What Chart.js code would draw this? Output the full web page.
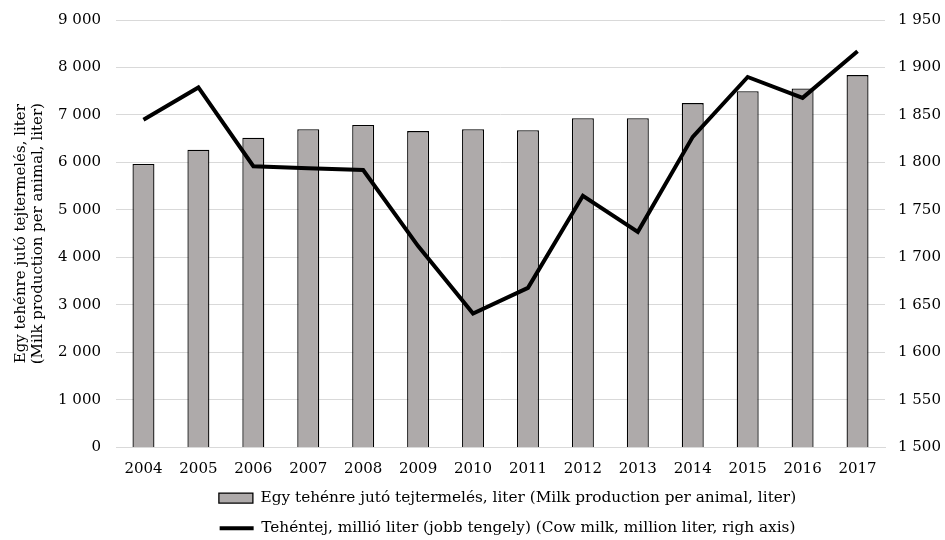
<!DOCTYPE html>
<html>
<head>
<meta charset="utf-8">
<script src="https://cdn.jsdelivr.net/npm/chart.js@4"></script>
<style>
  html, body { margin: 0; padding: 0; background: #fff; }
  #wrap { width: 945px; height: 540px; }
</style>
</head>
<body>
<div id="wrap"><canvas id="milkChart" width="945" height="540"></canvas></div>
<script>
const years = ['2004', '2005', '2006', '2007', '2008', '2009', '2010', '2011', '2012', '2013', '2014', '2015', '2016', '2017'];
// liter / cow
const perAnimal = [5970, 6270, 6520, 6700, 6790, 6660, 6700, 6680, 6930, 6930, 7250, 7500, 7560, 7840];
// million liter, right axis
const cowMilk = [1845, 1879, 1796, 1794, 1792, 1712, 1641, 1668, 1765, 1727, 1827, 1890, 1868, 1917];

const barLabel = 'Egy tehénre jutó tejtermelés, liter (Milk production per animal, liter)';
const lineLabel = 'Tehéntej, millió liter (jobb tengely) (Cow milk, million liter, righ axis)';
const leftTitle = ['Egy tehénre jutó tejtermelés, liter', '(Milk production per animal, liter)'];

const fam = '"DejaVu Serif", "Liberation Serif", serif';
const spaced = v => String(v).replace(/\B(?=(\d{3})+(?!\d))/g, ' ');

// legend sits centred under the plot, not the canvas
const legendNudge = {
  id: 'legendNudge',
  afterLayout(chart) {
    chart.legend.left += 70;
  }
};

const ctx = document.getElementById('milkChart').getContext('2d');
const milkChart = new Chart(ctx, {
  data: {
    labels: years,
    datasets: [
      {
        type: 'line',
        label: lineLabel,
        data: cowMilk,
        yAxisID: 'yRight',
        borderColor: '#000',
        backgroundColor: '#000',
        borderWidth: 4,
        pointRadius: 0,
        pointStyle: 'line',
        tension: 0,
        order: 0
      },
      {
        type: 'bar',
        label: barLabel,
        data: perAnimal,
        yAxisID: 'y',
        backgroundColor: '#aeaaaa',
        borderColor: '#000',
        borderWidth: 1.3,
        barPercentage: 0.4,
        categoryPercentage: 1,
        pointStyle: 'rect',
        order: 1
      }
    ]
  },
  plugins: [legendNudge],
  options: {
    responsive: false,
    animation: false,
    layout: { padding: { top: 20, left: 0, right: 0, bottom: -6 } },
    plugins: {
      tooltip: { enabled: false },
      legend: {
        position: 'bottom',
        reverse: true,
        labels: {
          color: '#000',
          font: { family: fam, size: 15.3 },
          usePointStyle: true,
          pointStyleWidth: 34,
          boxHeight: 10,
          padding: 15
        }
      }
    },
    scales: {
      x: {
        afterFit: s => { s.height = 28; },
        grid: { display: false, drawTicks: false },
        border: { display: true, color: '#d9d9d9' },
        ticks: { color: '#000', font: { family: fam, size: 15 }, padding: 13, maxRotation: 0 }
      },
      y: {
        position: 'left',
        min: 0,
        max: 9000,
        afterFit: s => { s.width = 116; s.paddingTop = 0; },
        grid: { color: '#d9d9d9', drawTicks: false },
        border: { display: false },
        ticks: { stepSize: 1000, color: '#000', font: { family: fam, size: 15 }, padding: 15, callback: spaced },
        title: {
          display: true,
          text: leftTitle,
          color: '#000',
          font: { family: fam, size: 15, lineHeight: 1.1 },
          padding: { top: 13, bottom: 0 }
        }
      },
      yRight: {
        position: 'right',
        min: 1500,
        max: 1950,
        afterFit: s => { s.width = 60; s.paddingTop = 0; },
        grid: { display: false, drawTicks: false },
        border: { display: false },
        ticks: { stepSize: 50, color: '#000', font: { family: fam, size: 15 }, padding: 13, callback: spaced }
      }
    }
  }
});
</script>
</body>
</html>
